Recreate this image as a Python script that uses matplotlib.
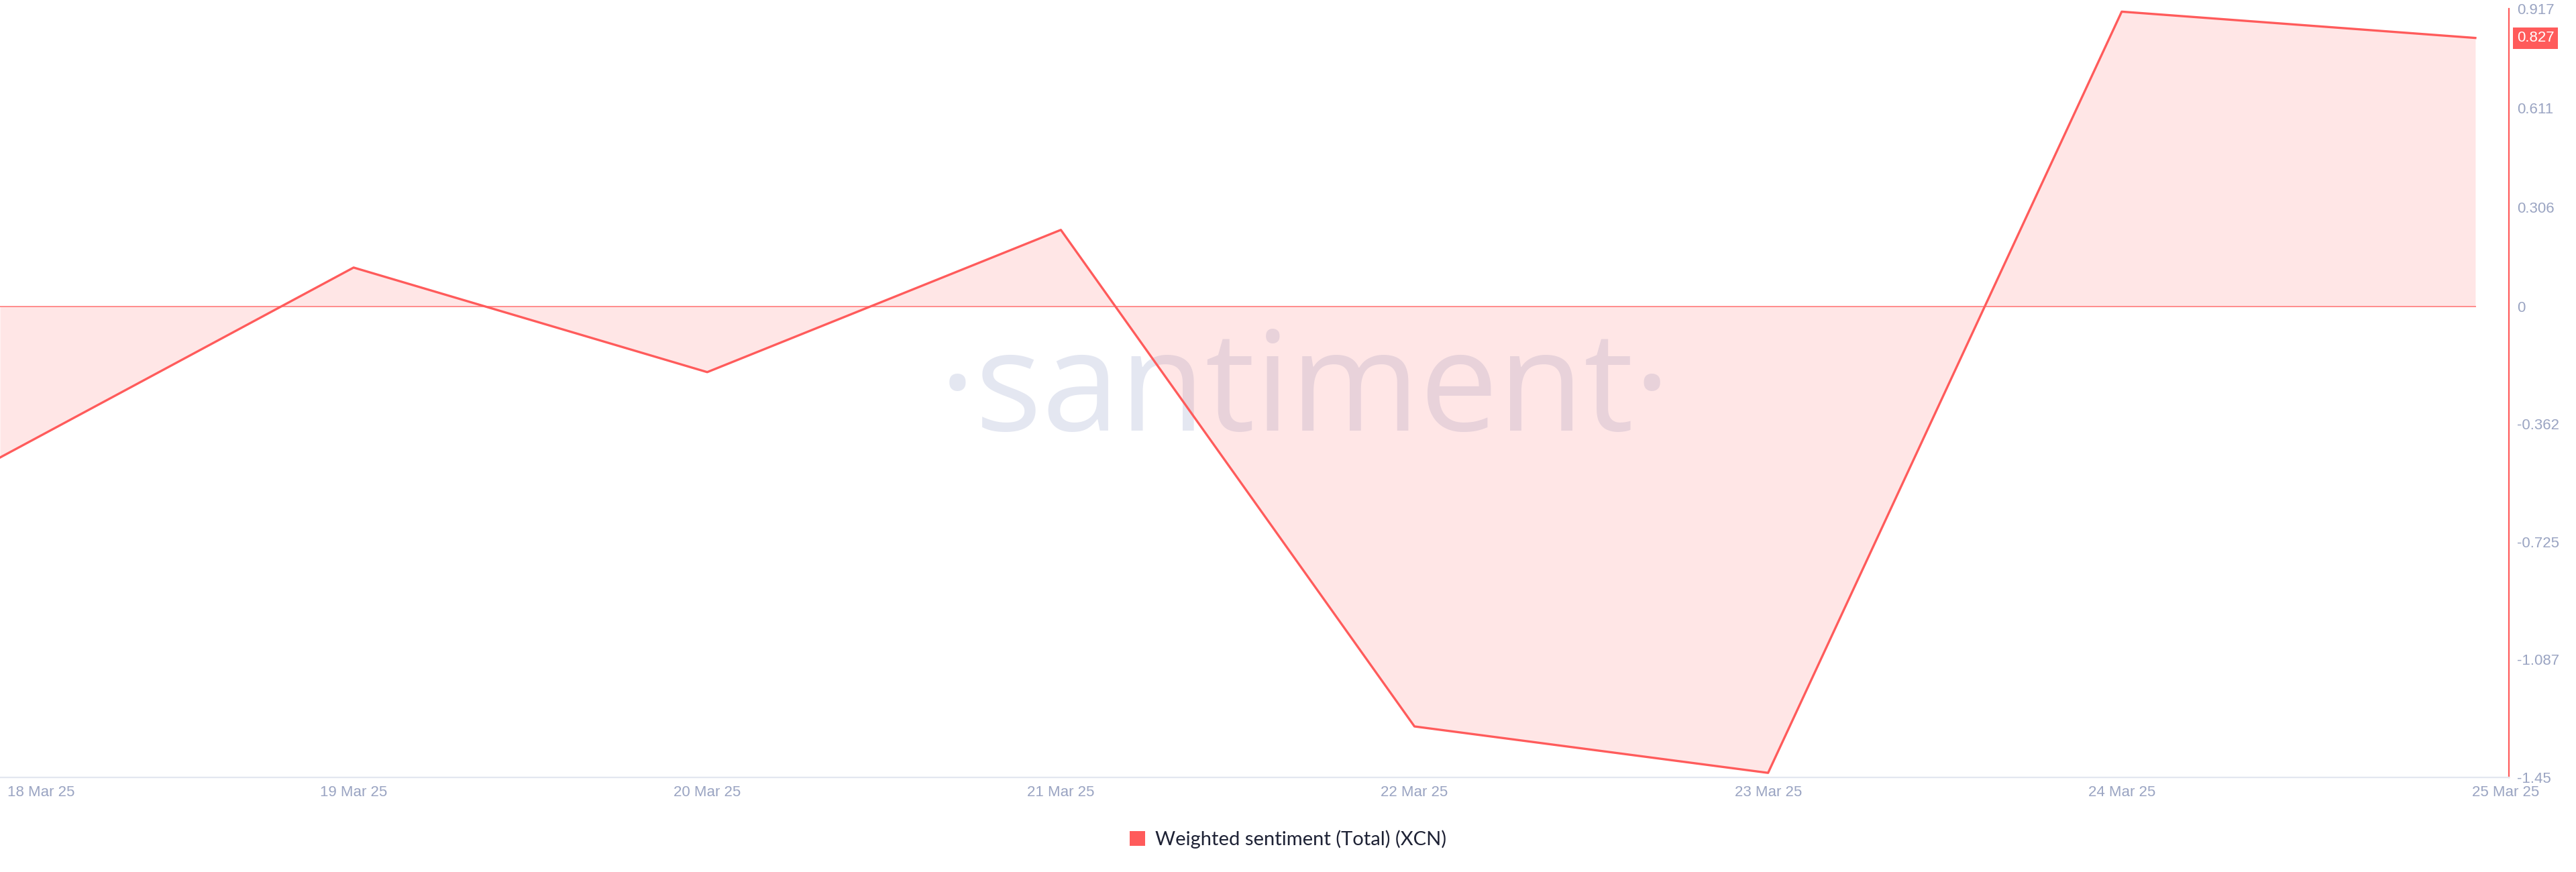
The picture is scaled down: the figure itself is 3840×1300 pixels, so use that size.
import matplotlib
matplotlib.use('Agg')
import matplotlib.pyplot as plt
import matplotlib.transforms as mtransforms
from matplotlib.patches import Patch
import pandas as pd

# ---- data ----
dates = ['2025-03-18', '2025-03-19', '2025-03-20', '2025-03-21',
         '2025-03-22', '2025-03-23', '2025-03-24', '2025-03-25']
values = [-0.465, 0.120, -0.202, 0.236, -1.293, -1.436, 0.908, 0.827]
x_tick_labels = ['18 Mar 25', '19 Mar 25', '20 Mar 25', '21 Mar 25',
                 '22 Mar 25', '23 Mar 25', '24 Mar 25', '25 Mar 25']
y_tick_values = [0.917, 0.611, 0.306, 0, -0.362, -0.725, -1.087, -1.45]
y_tick_labels = ['0.917', '0.611', '0.306', '0', '-0.362', '-0.725', '-1.087', '-1.45']
last_value_label = '0.827'
series_name = 'Weighted sentiment (Total) (XCN)'
watermark = '·santiment·'

RED = '#FF5B5B'
TICK_COLOR = '#9AA4C2'
TICK_SIZE = 16

fig = plt.figure(figsize=(38.4, 13), dpi=100)
ax = fig.add_axes([0, 1 - 1159 / 1300, 3740 / 3840, (1159 - 13) / 1300])

x = pd.to_datetime(dates)

# watermark (below the fill)
ax.text(1945 / 3840, 1 - 642 / 1300, watermark, transform=fig.transFigure,
        ha='center', va='baseline', fontsize=150, color='#E4E7F1',
        family=['Open Sans', 'DejaVu Sans'], zorder=0)

ax.fill_between(x, values, 0, color=RED, alpha=0.15, lw=0, zorder=1)
ax.plot([x[0], x[-1]], [0, 0], color='#FF8C8C', lw=1.4, zorder=2)
ax.plot(x, values, color=RED, lw=2.4, zorder=3)

ax.set_ylim(-1.45, 0.917)
ax.set_xlim(x[0], x[-1] + pd.Timedelta(days=0.095))

for s in ['left', 'top']:
    ax.spines[s].set_visible(False)
ax.spines['bottom'].set_color('#E3E7F0')
ax.spines['bottom'].set_linewidth(1.6)
ax.spines['right'].set_color(RED)
ax.spines['right'].set_linewidth(1.6)

ax.yaxis.tick_right()
ax.set_yticks(y_tick_values)
ax.set_yticklabels(y_tick_labels)
ax.tick_params(axis='y', length=0, pad=8.6, labelcolor=TICK_COLOR, labelsize=TICK_SIZE)
for lab in ax.get_yticklabels():
    lab.set_family(['Liberation Sans', 'DejaVu Sans'])

ax.set_xticks(x)
ax.set_xticklabels(x_tick_labels)
ax.tick_params(axis='x', length=0, pad=8.5, labelcolor=TICK_COLOR, labelsize=TICK_SIZE)
xlabs = ax.get_xticklabels()
for lab in xlabs:
    lab.set_family(['Liberation Sans', 'DejaVu Sans'])
xlabs[0].set_horizontalalignment('left')
xlabs[0].set_transform(xlabs[0].get_transform() +
                       mtransforms.ScaledTranslation(11 / 100, 0, fig.dpi_scale_trans))
xlabs[-1].set_horizontalalignment('left')
xlabs[-1].set_transform(xlabs[-1].get_transform() +
                        mtransforms.ScaledTranslation(-5 / 100, 0, fig.dpi_scale_trans))

# last value badge
ax.annotate(last_value_label, xy=(1, values[-1]), xycoords=ax.get_yaxis_transform(),
            xytext=(12, 0), textcoords='offset pixels', ha='left', va='center',
            color='white', fontsize=TICK_SIZE, family=['Liberation Sans', 'DejaVu Sans'],
            bbox=dict(boxstyle='square,pad=0.25', fc=RED, ec='none'),
            annotation_clip=False, zorder=5)

leg = fig.legend(handles=[Patch(facecolor=RED, edgecolor='none')], labels=[series_name],
                 loc='center', bbox_to_anchor=(0.5, 1 - 1251 / 1300), frameon=False,
                 handlelength=0.8, handleheight=0.8, handletextpad=0.5,
                 prop={'family': ['Lato', 'DejaVu Sans'], 'size': 21})
for t in leg.get_texts():
    t.set_color('#1E2235')

fig.savefig('out.png', dpi=100, facecolor='white')
